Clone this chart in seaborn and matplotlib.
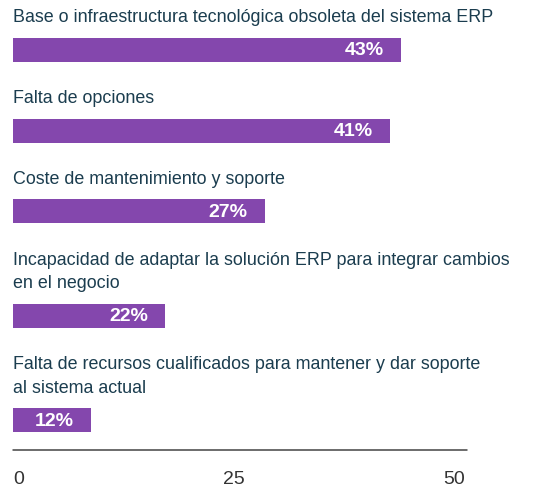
import numpy as np
import matplotlib.pyplot as plt
import seaborn as sns

sns.set_style('white')
plt.rcParams['font.family'] = ['Liberation Sans', 'DejaVu Sans']

# datos
etiquetas = ['Base o infraestructura tecnológica obsoleta del sistema ERP',
             'Falta de opciones',
             'Coste de mantenimiento y soporte',
             'Incapacidad de adaptar la solución ERP para integrar cambios\nen el negocio',
             'Falta de recursos cualificados para mantener y dar soporte\nal sistema actual']
porcentajes = [43, 41, 27, 22, 12]
# largo de las barras leido sobre el eje (no estan a escala en el original)
largos = [43, 41.8, 27.9, 16.9, 8.6]
ticks = [0, 25, 50]

morado = '#8447ad'
texto = '#1b3d4f'

W, H = 533, 488
fig = plt.figure(figsize=(W / 100, H / 100), dpi=100)
x0, x1 = 13, 464
ax = fig.add_axes([x0 / W, 0, (x1 - x0) / W, 1])

# layout vertical en pixeles
line_h = 23.5
bar_h = 24
y = 18
lab_y, bar_y = [], []
for lab in etiquetas:
    n = lab.count('\n') + 1
    lab_y.append(y)
    y_last = y + (n - 1) * line_h
    bar_y.append(y_last + 31.8)
    y = y_last + 31.8 + 49

ancho = bar_h / np.min(np.diff(bar_y))
sns.barplot(x=largos, y=bar_y, orient='h', native_scale=True, color=morado,
            saturation=1, width=ancho, linewidth=0, ax=ax)
ax.set_xlim(0, 50)
ax.set_ylim(H, 0)

for lab, ly, by, v, p in zip(etiquetas, lab_y, bar_y, largos, porcentajes):
    for i, linea in enumerate(lab.split('\n')):
        ax.text(0, ly + i * line_h, linea, ha='left', va='center',
                fontsize=12.85, color=texto, clip_on=False)
    ax.text(v - 1.9, by + 1, f'{p}%', ha='right', va='center', fontsize=14,
            fontweight='bold', color='white')

# eje
ax.plot([0.05, 50.3], [450, 450], color='#444444', lw=1.1, clip_on=False)
for t, ha in zip(ticks, ['left', 'center', 'right']):
    ax.text(t - 0.55 * (ha == 'center') + 0.1 * (ha == 'right'), 479.5, str(t),
            ha=ha, va='center', fontsize=14, color='#333333', clip_on=False)

ax.axis('off')
fig.savefig('out.png', dpi=100)
